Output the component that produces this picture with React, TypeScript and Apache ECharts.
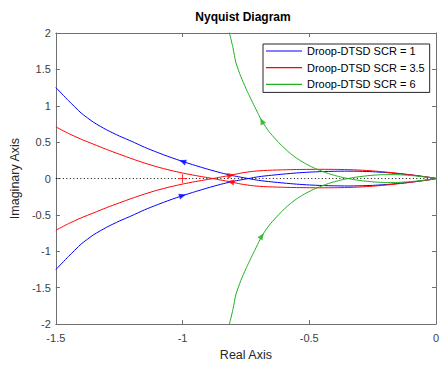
import React, { useEffect, useRef } from "react";
import * as echarts from "echarts";

const FONT = "'Liberation Sans', Arial, Helvetica, sans-serif";

const seriesNames = ["Droop-DTSD SCR = 1", "Droop-DTSD SCR = 3.5", "Droop-DTSD SCR = 6"];

// Nyquist branches as [real, imag]; "upper" runs through the upper-left half-plane,
// "lower" through the lower-left, both listed from the far end towards the origin.
const blueUpper: [number, number][] = [
  [-1.5, 1.25], [-1.45, 1.07], [-1.4, 0.9], [-1.35, 0.77], [-1.3, 0.67], [-1.25, 0.585],
  [-1.2, 0.51], [-1.15, 0.43], [-1.1, 0.36], [-1.05, 0.295], [-1.0, 0.235], [-0.95, 0.18],
  [-0.9, 0.128], [-0.85, 0.08], [-0.8, 0.038], [-0.74, 0], [-0.7, -0.025], [-0.65, -0.045],
  [-0.6, -0.062], [-0.55, -0.077], [-0.5, -0.088], [-0.45, -0.096], [-0.4, -0.1], [-0.35, -0.102],
  [-0.3, -0.1], [-0.25, -0.094], [-0.2, -0.083], [-0.15, -0.068], [-0.1, -0.05], [-0.05, -0.028], [0, 0],
];
const blueLower: [number, number][] = [
  [-1.5, -1.25], [-1.45, -1.07], [-1.4, -0.9], [-1.35, -0.77], [-1.3, -0.67], [-1.25, -0.585],
  [-1.2, -0.51], [-1.15, -0.43], [-1.1, -0.36], [-1.05, -0.295], [-1.0, -0.235], [-0.95, -0.18],
  [-0.9, -0.128], [-0.85, -0.08], [-0.8, -0.038], [-0.74, 0], [-0.7, 0.025], [-0.65, 0.045],
  [-0.6, 0.062], [-0.55, 0.077], [-0.5, 0.088], [-0.45, 0.096], [-0.4, 0.1], [-0.35, 0.102],
  [-0.3, 0.1], [-0.25, 0.094], [-0.2, 0.083], [-0.15, 0.068], [-0.1, 0.05], [-0.05, 0.028], [0, 0],
];

const redUpper: [number, number][] = [
  [-1.5, 0.71], [-1.45, 0.62], [-1.4, 0.54], [-1.35, 0.47], [-1.3, 0.4], [-1.25, 0.335],
  [-1.2, 0.272], [-1.15, 0.213], [-1.1, 0.16], [-1.05, 0.115], [-1.0, 0.076], [-0.95, 0.042],
  [-0.9, 0.012], [-0.88, 0], [-0.85, -0.02], [-0.81, -0.045], [-0.77, -0.075], [-0.72, -0.1],
  [-0.67, -0.112], [-0.6, -0.12], [-0.55, -0.124], [-0.5, -0.126], [-0.45, -0.127], [-0.4, -0.126],
  [-0.35, -0.123], [-0.3, -0.116], [-0.25, -0.105], [-0.2, -0.09], [-0.15, -0.072], [-0.1, -0.052],
  [-0.05, -0.028], [0, 0],
];
const redLower: [number, number][] = [
  [-1.5, -0.71], [-1.45, -0.62], [-1.4, -0.54], [-1.35, -0.47], [-1.3, -0.4], [-1.25, -0.335],
  [-1.2, -0.272], [-1.15, -0.213], [-1.1, -0.16], [-1.05, -0.115], [-1.0, -0.076], [-0.95, -0.042],
  [-0.9, -0.012], [-0.88, 0], [-0.85, 0.02], [-0.81, 0.045], [-0.77, 0.075], [-0.72, 0.1],
  [-0.67, 0.112], [-0.6, 0.12], [-0.55, 0.124], [-0.5, 0.126], [-0.45, 0.127], [-0.4, 0.126],
  [-0.35, 0.123], [-0.3, 0.116], [-0.25, 0.105], [-0.2, 0.09], [-0.15, 0.072], [-0.1, 0.052],
  [-0.05, 0.028], [0, 0],
];

const greenUpper: [number, number][] = [
  [-0.822, 2.08], [-0.815, 2.0], [-0.8, 1.78], [-0.79, 1.6], [-0.77, 1.4], [-0.75, 1.24],
  [-0.738, 1.15], [-0.72, 1.02], [-0.7, 0.88], [-0.687, 0.79], [-0.66, 0.65], [-0.63, 0.53],
  [-0.61, 0.458], [-0.58, 0.36], [-0.55, 0.28], [-0.52, 0.215], [-0.49, 0.16], [-0.46, 0.115],
  [-0.43, 0.075], [-0.4, 0.043], [-0.37, 0.017], [-0.347, 0], [-0.32, -0.017], [-0.28, -0.035],
  [-0.24, -0.048], [-0.2, -0.054], [-0.16, -0.054], [-0.12, -0.047], [-0.08, -0.036], [-0.04, -0.02], [0, 0],
];
const greenLower: [number, number][] = [
  [-0.822, -2.08], [-0.815, -2.0], [-0.8, -1.78], [-0.79, -1.6], [-0.77, -1.4], [-0.75, -1.24],
  [-0.738, -1.15], [-0.72, -1.02], [-0.7, -0.88], [-0.687, -0.79], [-0.66, -0.65], [-0.63, -0.53],
  [-0.61, -0.458], [-0.58, -0.36], [-0.55, -0.28], [-0.52, -0.215], [-0.49, -0.16], [-0.46, -0.115],
  [-0.43, -0.075], [-0.4, -0.043], [-0.37, -0.017], [-0.347, 0], [-0.32, 0.017], [-0.28, 0.035],
  [-0.24, 0.048], [-0.2, 0.054], [-0.16, 0.054], [-0.12, 0.047], [-0.08, 0.036], [-0.04, 0.02], [0, 0],
];

// Direction arrows: [real, imag, realAhead, imagAhead] (the point the arrow heads towards)
const blueArrows: [number, number, number, number][] = [
  [-1.0, 0.235, -1.05, 0.295],
  [-1.0, -0.235, -0.95, -0.18],
];
const redArrows: [number, number, number, number][] = [
  [-0.81, -0.045, -0.85, -0.02],
  [-0.81, 0.045, -0.77, 0.075],
];
const greenArrows: [number, number, number, number][] = [
  [-0.687, 0.79, -0.72, 1.02],
  [-0.687, -0.79, -0.66, -0.65],
];

const criticalPoint: [number, number][] = [[-1, 0]];
const zeroLine: [number, number][] = [[-1.5, 0], [0, 0]];

const realRange = { min: -1.5, max: 0, interval: 0.5 };
const imagRange = { min: -2, max: 2, interval: 0.5 };

const BLUE = "#0000ff";
const RED = "#ff0000";
const GREEN = "#20b020";
const AXIS = "#707070";

function fullPath(lower: [number, number][], upper: [number, number][]) {
  return [...lower, ...upper.slice().reverse()];
}

export default function App() {
  const ref = useRef<HTMLDivElement | null>(null);

  useEffect(() => {
    if (!ref.current) return;
    const chart = echarts.init(ref.current, undefined, { renderer: "svg" });

    const axisCommon = {
      type: "value" as const,
      axisLine: { show: true, onZero: false, lineStyle: { color: AXIS, width: 1 } },
      axisTick: { show: true, inside: true, length: 4, lineStyle: { color: AXIS } },
      splitLine: { show: false },
    };

    const curve = (name: string, color: string, data: [number, number][]) => ({
      name,
      type: "line",
      data,
      symbol: "none",
      showSymbol: false,
      smooth: 0.2,
      lineStyle: { color, width: 1 },
      itemStyle: { color },
      z: 3,
      silent: true,
    });

    const arrows = (id: string, color: string, list: [number, number, number, number][], rot?: number[]) => ({
      id,
      type: "scatter",
      data: list.map((a, i) => ({ value: [a[0], a[1]], symbolRotate: rot ? rot[i] : 0 })),
      symbol: "triangle",
      symbolSize: [6, 7],
      itemStyle: { color },
      z: 4,
      silent: true,
    });

    const option: any = {
      animation: false,
      backgroundColor: "#ffffff",
      textStyle: { fontFamily: FONT },
      grid: { left: 49, right: 5, top: 33, bottom: 35, containLabel: false },
      xAxis: [
        {
          ...axisCommon,
          ...realRange,
          position: "bottom",
          name: "Real Axis",
          nameLocation: "middle",
          nameGap: 18,
          nameTextStyle: { fontSize: 12.5, color: "#262626", fontFamily: FONT },
          axisLabel: { margin: 8, fontSize: 11, color: "#404040", fontFamily: FONT },
        },
        { ...axisCommon, ...realRange, position: "top", axisLabel: { show: false } },
      ],
      yAxis: [
        {
          ...axisCommon,
          ...imagRange,
          position: "left",
          name: "Imaginary Axis",
          nameLocation: "middle",
          nameGap: 29,
          nameTextStyle: { fontSize: 12.5, color: "#262626", fontFamily: FONT },
          axisLabel: { margin: 5, fontSize: 11, color: "#404040", fontFamily: FONT },
        },
        { ...axisCommon, ...imagRange, position: "right", axisLabel: { show: false } },
      ],
      legend: {
        data: seriesNames,
        orient: "vertical",
        left: 263,
        top: 44,
        icon: "rect",
        itemWidth: 36,
        itemHeight: 1.2,
        itemGap: 2.7,
        padding: [0, 5, 1, 3],
        backgroundColor: "#ffffff",
        borderColor: "#262626",
        borderWidth: 1,
        borderRadius: 0,
        selectedMode: false,
        textStyle: { fontSize: 11, lineHeight: 14, color: "#000000", fontFamily: FONT },
      },
      graphic: [
        {
          type: "text",
          x: 243,
          y: 17,
          style: {
            text: "Nyquist Diagram",
            align: "center",
            verticalAlign: "middle",
            font: `bold 12px ${FONT}`,
            fill: "#000000",
          },
        },
      ],
      series: [
        {
          name: "zero",
          type: "line",
          data: zeroLine,
          symbol: "none",
          lineStyle: { color: "#000000", width: 1, type: [1, 2.5] },
          z: 2,
          silent: true,
        },
        curve(seriesNames[0], BLUE, fullPath(blueLower, blueUpper)),
        curve(seriesNames[1], RED, fullPath(redLower, redUpper)),
        curve(seriesNames[2], GREEN, fullPath(greenLower, greenUpper)),
        arrows("arrowsBlue", BLUE, blueArrows),
        arrows("arrowsRed", RED, redArrows),
        arrows("arrowsGreen", GREEN, greenArrows),
        {
          name: "critical",
          type: "scatter",
          data: criticalPoint,
          symbol: "path://M0,5 L10,5 M5,0 L5,10",
          symbolSize: 9,
          itemStyle: { color: "none", borderColor: RED, borderWidth: 1 },
          z: 4,
          silent: true,
        },
      ],
    };

    chart.setOption(option);

    // Orient each arrow along its branch in screen space
    const rotations = (list: [number, number, number, number][]) =>
      list.map((a) => {
        const p = chart.convertToPixel({ gridIndex: 0 }, [a[0], a[1]]) as number[];
        const q = chart.convertToPixel({ gridIndex: 0 }, [a[2], a[3]]) as number[];
        const ang = (Math.atan2(-(q[1] - p[1]), q[0] - p[0]) * 180) / Math.PI;
        return ang - 90;
      });

    chart.setOption({
      series: [
        arrows("arrowsBlue", BLUE, blueArrows, rotations(blueArrows)),
        arrows("arrowsRed", RED, redArrows, rotations(redArrows)),
        arrows("arrowsGreen", GREEN, greenArrows, rotations(greenArrows)),
      ],
    });

    return () => {
      chart.dispose();
    };
  }, []);

  return (
    <div
      ref={ref}
      style={{ position: "fixed", left: 0, top: 0, width: 442, height: 366, background: "#ffffff" }}
    />
  );
}
